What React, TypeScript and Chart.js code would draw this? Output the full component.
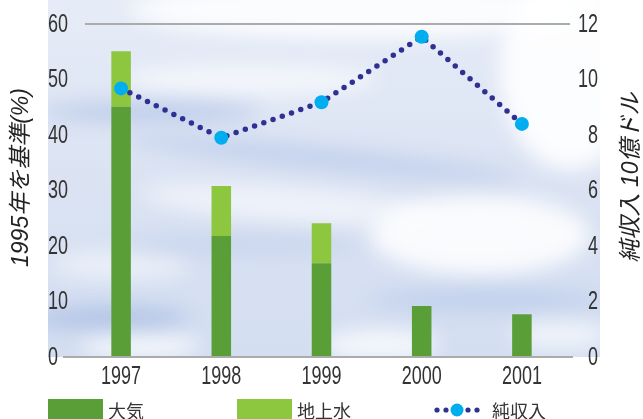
import React, { useEffect, useRef } from 'react';
import { Chart, registerables } from 'chart.js';

Chart.register(...registerables);

const years = ['1997', '1998', '1999', '2000', '2001'];
const atmosphere = [45.1, 21.8, 16.9, 9.2, 7.7];
const groundwater = [10.0, 9.0, 7.2, 0, 0];
const netIncome = [9.68, 7.9, 9.18, 11.54, 8.4];
const seriesLabels = ['大気', '地上水', '純収入'];
const leftTitle = '1995年を基準(%)';
const rightTitle = '純収入 10億ドル';
const leftRange = { min: 0, max: 60, step: 10 };
const rightRange = { min: 0, max: 12, step: 2 };

const DARK_GREEN = '#5a9e37';
const LIGHT_GREEN = '#8dc63f';
const NAVY = '#2e3192';
const CYAN = '#00aeef';
const TEXT = '#333333';
const TICK_FONT = '25px "Liberation Sans", Arimo, sans-serif';
const TICK_SQUEEZE = 0.72;
const TITLE_FONT = 'italic 23px "Liberation Sans", "Noto Sans CJK JP", sans-serif';
const LEGEND_FONT = '18px "Noto Sans CJK JP", sans-serif';

const cloudPlugin = {
  id: 'clouds',
  beforeDraw(chart: any) {
    const { ctx, chartArea } = chart;
    const x0 = chartArea.left - 23;
    const x1 = chartArea.right + 28;
    const y0 = 0;
    const y1 = chartArea.bottom;
    ctx.save();
    ctx.beginPath();
    ctx.rect(x0, y0, x1 - x0, y1 - y0);
    ctx.clip();
    const g = ctx.createLinearGradient(0, y0, 0, y1);
    g.addColorStop(0, '#e6ecf7');
    g.addColorStop(0.5, '#dbe3f3');
    g.addColorStop(1, '#d3def1');
    ctx.fillStyle = g;
    ctx.fillRect(x0, y0, x1 - x0, y1 - y0);
    ctx.filter = 'blur(10px)';
    const blob = (cx: number, cy: number, rx: number, ry: number, color: string, rot = 0) => {
      ctx.fillStyle = color;
      ctx.beginPath();
      ctx.ellipse(cx, cy, rx, ry, rot, 0, Math.PI * 2);
      ctx.fill();
    };
    blob(360, 10, 230, 28, 'rgba(255,255,255,0.85)');
    blob(570, 70, 70, 100, 'rgba(255,255,255,0.9)');
    blob(480, 235, 110, 40, 'rgba(255,255,255,0.85)');
    blob(250, 80, 130, 16, 'rgba(255,255,255,0.6)');
    blob(290, 205, 150, 18, 'rgba(255,255,255,0.55)', 0.08);
    blob(140, 345, 60, 14, 'rgba(255,255,255,0.7)');
    blob(380, 345, 60, 16, 'rgba(255,255,255,0.75)');
    blob(560, 335, 50, 16, 'rgba(255,255,255,0.6)');
    blob(120, 265, 70, 14, 'rgba(255,255,255,0.5)');
    blob(150, 112, 110, 9, 'rgba(170,190,228,0.7)');
    blob(320, 158, 200, 9, 'rgba(178,197,232,0.7)', 0.1);
    blob(110, 318, 80, 11, 'rgba(165,185,225,0.75)');
    blob(490, 300, 120, 9, 'rgba(178,197,232,0.7)');
    blob(240, 245, 120, 8, 'rgba(185,202,234,0.6)');
    ctx.restore();
  },
};

const framePlugin = {
  id: 'frame',
  afterDatasetsDraw(chart: any) {
    const { ctx, chartArea } = chart;
    ctx.save();
    ctx.strokeStyle = '#ababab';
    ctx.lineWidth = 2;
    ctx.beginPath();
    ctx.moveTo(chartArea.left + 14, chartArea.top);
    ctx.lineTo(chartArea.right - 2, chartArea.top);
    ctx.moveTo(chartArea.left - 8, chartArea.bottom);
    ctx.lineTo(chartArea.right + 1, chartArea.bottom);
    ctx.stroke();
    ctx.restore();
  },
};

// condensed tick labels drawn at the library's tick positions
const tickPlugin = {
  id: 'narrowTicks',
  afterDraw(chart: any) {
    const { ctx } = chart;
    const draw = (text: string, x: number, y: number, align: CanvasTextAlign) => {
      ctx.save();
      ctx.translate(x, y);
      ctx.scale(TICK_SQUEEZE, 1);
      ctx.font = TICK_FONT;
      ctx.fillStyle = TEXT;
      ctx.textAlign = align;
      ctx.textBaseline = 'middle';
      ctx.fillText(text, 0, 0);
      ctx.restore();
    };
    const sx = chart.scales.x;
    sx.ticks.forEach((t: any, i: number) => {
      draw(String(sx.getLabelForValue(t.value)), sx.getPixelForTick(i), sx.top + 20, 'center');
    });
    const sy = chart.scales.y;
    sy.ticks.forEach((t: any, i: number) => {
      draw(String(t.label), sy.left, sy.getPixelForTick(i) + 1, 'left');
    });
    const sy1 = chart.scales.y1;
    sy1.ticks.forEach((t: any, i: number) => {
      draw(String(t.label), sy1.right, sy1.getPixelForTick(i) + 1, 'right');
    });
  },
};

const titlePlugin = {
  id: 'titles',
  afterDraw(chart: any) {
    const { ctx, chartArea } = chart;
    const cy = (chartArea.top + chartArea.bottom) / 2 - 13;
    ctx.save();
    ctx.font = TITLE_FONT;
    ctx.fillStyle = '#222';
    ctx.textAlign = 'center';
    ctx.textBaseline = 'middle';
    ctx.translate(22, cy);
    ctx.rotate(-Math.PI / 2);
    ctx.fillText(leftTitle, 0, 0);
    ctx.restore();
    ctx.save();
    ctx.font = TITLE_FONT;
    ctx.fillStyle = '#222';
    ctx.textAlign = 'center';
    ctx.textBaseline = 'middle';
    ctx.translate(chart.width - 11, cy);
    ctx.rotate(-Math.PI / 2);
    ctx.fillText(rightTitle, 0, 0);
    ctx.restore();
  },
};

const legendPlugin = {
  id: 'customLegend',
  afterDraw(chart: any) {
    const { ctx } = chart;
    const ds = chart.data.datasets;
    const y = 410;
    ctx.save();
    ctx.font = LEGEND_FONT;
    ctx.textBaseline = 'middle';
    ctx.textAlign = 'left';
    const barItems = [
      { x: 48, d: ds[1] },
      { x: 237, d: ds[2] },
    ];
    barItems.forEach(({ x, d }) => {
      ctx.fillStyle = d.backgroundColor;
      ctx.fillRect(x, 399, 55, 22);
      ctx.fillStyle = TEXT;
      ctx.fillText(d.label, x + 60, y + 1);
    });
    const lx = 457;
    const line = ds[0];
    ctx.fillStyle = line.borderColor;
    [-20, -11, 11, 20].forEach((dx) => {
      ctx.beginPath();
      ctx.arc(lx + dx, y, 2.6, 0, Math.PI * 2);
      ctx.fill();
    });
    ctx.fillStyle = line.pointBackgroundColor;
    ctx.beginPath();
    ctx.arc(lx, y, 6.5, 0, Math.PI * 2);
    ctx.fill();
    ctx.fillStyle = TEXT;
    ctx.fillText(line.label, 492, y + 1);
    ctx.restore();
  },
};

export default function App() {
  const ref = useRef<HTMLCanvasElement>(null);
  useEffect(() => {
    document.body.style.margin = '0';
    const canvas = ref.current;
    if (!canvas) return;
    const chart = new Chart(canvas, {
      type: 'bar',
      data: {
        labels: years,
        datasets: [
          {
            type: 'line',
            label: seriesLabels[2],
            data: netIncome,
            yAxisID: 'y1',
            borderColor: NAVY,
            borderWidth: 5.5,
            borderDash: [0, 9.8],
            borderCapStyle: 'round',
            pointRadius: 7,
            pointBackgroundColor: CYAN,
            pointBorderColor: CYAN,
            pointBorderWidth: 0,
            tension: 0,
            fill: false,
            order: 0,
          } as any,
          {
            type: 'bar',
            label: seriesLabels[0],
            data: atmosphere,
            yAxisID: 'y',
            backgroundColor: DARK_GREEN,
            barPercentage: 0.195,
            categoryPercentage: 1,
            order: 1,
          },
          {
            type: 'bar',
            label: seriesLabels[1],
            data: groundwater,
            yAxisID: 'y',
            backgroundColor: LIGHT_GREEN,
            barPercentage: 0.195,
            categoryPercentage: 1,
            order: 2,
          },
        ],
      },
      options: {
        responsive: false,
        animation: false,
        layout: { padding: { left: 48, right: 45, top: 24, bottom: 0 } },
        plugins: {
          legend: { display: false },
          tooltip: { enabled: false },
          title: { display: false },
        },
        scales: {
          x: {
            stacked: true,
            offset: true,
            grid: { display: false, drawTicks: false },
            border: { display: false },
            ticks: { display: false },
            afterFit: (s: any) => {
              s.height = 62;
            },
          },
          y: {
            position: 'left',
            stacked: true,
            min: leftRange.min,
            max: leftRange.max,
            grid: { display: false, drawTicks: false },
            border: { display: false },
            ticks: { stepSize: leftRange.step, display: false },
            afterFit: (s: any) => {
              s.width = 23;
            },
          },
          y1: {
            position: 'right',
            min: rightRange.min,
            max: rightRange.max,
            grid: { display: false, drawTicks: false },
            border: { display: false },
            ticks: { stepSize: rightRange.step, display: false },
            afterFit: (s: any) => {
              s.width = 26;
            },
          },
        },
      } as any,
      plugins: [cloudPlugin, framePlugin, tickPlugin, titlePlugin, legendPlugin],
    });
    return () => chart.destroy();
  }, []);
  return (
    <div style={{ width: 643, height: 419, background: '#fff' }}>
      <canvas ref={ref} width={643} height={419} style={{ display: 'block' }} />
    </div>
  );
}
